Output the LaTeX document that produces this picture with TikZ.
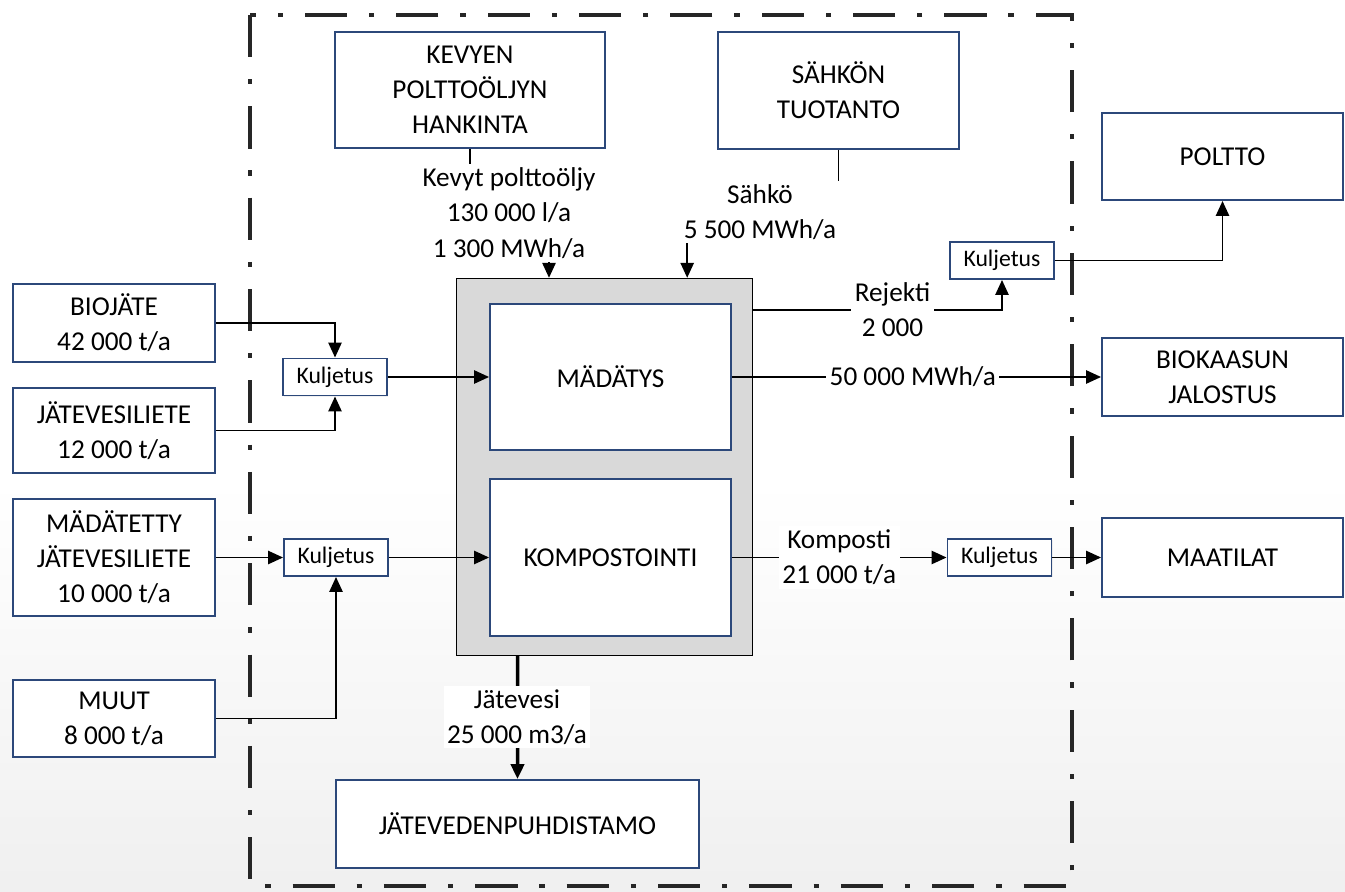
\documentclass[tikz,border=0pt]{standalone}
\usepackage{fontspec}
\setmainfont{Carlito}
\usetikzlibrary{arrows.meta}
\usetikzlibrary{shadows}
\definecolor{boxblue}{RGB}{44,72,122}

\begin{document}
\begin{tikzpicture}[x=0.02cm, y=-0.02cm,
  box/.style={draw=boxblue, line width=1.1pt, fill=white, align=center, inner sep=0pt,
    font=\fontsize{15.5}{20}\selectfont,
    drop shadow={opacity=0.12, shadow xshift=0.8pt, shadow yshift=-0.8pt}},
  kbox/.style={box, font=\fontsize{13.5}{16}\selectfont, minimum width=2.08cm, minimum height=0.74cm},
  lbl/.style={fill=white, align=center, inner sep=2pt, font=\fontsize{15.5}{20}\selectfont},
  arr/.style={-{Triangle[length=8.5pt,width=7.5pt]}, line width=1.1pt}]
\useasboundingbox (0,0) rectangle (1345,892);
\shade[top color=white, bottom color=black!6] (0,480) rectangle (1345,892);
% system boundary
\draw[black!85, line width=2.4pt, dash pattern=on 24pt off 12.5pt on 3pt off 12.5pt] (250,15) rectangle (1072,886);

\node[box, minimum width=5.4cm, minimum height=2.32cm] (kev) at (470,90) {KEVYEN\\POLTTOÖLJYN\\HANKINTA};
\node[box, minimum width=4.82cm, minimum height=2.34cm] (sah) at (838.5,90.5) {SÄHKÖN\\TUOTANTO};
\node[box, minimum width=4.82cm, minimum height=1.74cm] (pol) at (1222.5,156.5) {POLTTO};
\node[box, minimum width=4.82cm, minimum height=1.56cm] (bkj) at (1222.5,377) {BIOKAASUN\\JALOSTUS};
\node[box, minimum width=4.82cm, minimum height=1.58cm] (maa) at (1222.5,557.5) {MAATILAT};

% inputs
\node[box, minimum width=4.04cm, minimum height=1.56cm] (bio) at (114,323) {BIOJÄTE\\42 000 t/a};
\node[box, minimum width=4.04cm, minimum height=1.70cm] (jvl) at (114,430.5) {JÄTEVESILIETE\\12 000 t/a};
\node[box, minimum width=4.04cm, minimum height=2.34cm] (mdt) at (114,557.5) {MÄDÄTETTY\\JÄTEVESILIETE\\10 000 t/a};
\node[box, minimum width=4.04cm, minimum height=1.54cm] (muu) at (114,718.5) {MUUT\\8 000 t/a};

% process
\node[draw=black, line width=0.8pt, fill=black!15, minimum width=5.92cm, minimum height=7.54cm] (proc) at (604.5,467) {};
\node[box, minimum width=4.82cm, minimum height=2.92cm] (mad) at (610.5,377) {MÄDÄTYS};
\node[box, minimum width=4.82cm, minimum height=3.14cm] (kom) at (610.5,557.5) {KOMPOSTOINTI};
\node[box, minimum width=7.26cm, minimum height=1.76cm] (jvp) at (517.5,824) {JÄTEVEDENPUHDISTAMO};

\node[kbox] (kul1) at (335,377) {Kuljetus};
\node[kbox] (kul2) at (336,557.5) {Kuljetus};
\node[kbox] (kul3) at (1002,260.5) {Kuljetus};
\node[kbox] (kul4) at (999.5,557.5) {Kuljetus};

\draw[arr] (bio.east) -| (kul1.north);
\draw[arr] (jvl.east) -| (kul1.south);
\draw[arr] (kul1.east) -- (mad.west);
\draw[arr] (mdt.east) -- (kul2.west);
\draw[arr] (muu.east) -| (kul2.south);
\draw[arr] (kul2.east) -- (kom.west);

\draw[arr] (mad.east) -- (bkj.west) node[lbl, pos=0.49, inner ysep=0pt] {50 000 MWh/a};
\draw[arr] (kom.east) -- (kul4.west) node[lbl, pos=0.5] {Komposti\\21 000 t/a};
\draw[arr] (kul4.east) -- (maa.west);
\draw[arr] (proc.north east) ++(0,32) -| (kul3.south) node[lbl, pos=0.28] {Rejekti\\2 000};
\draw[arr] (kul3.east) -| (pol.south);

\draw[arr] (kev.south) -- ++(0,60) -| ([xshift=-1.11cm]proc.north);
\node[lbl] (kevl) at (509,213) {Kevyt polttoöljy\\130 000 l/a\\1 300 MWh/a};
\draw[arr] (sah.south) -- ++(0,62) -| ([xshift=-1.32cm]proc.north east);
\node[lbl, inner xsep=5pt] (sahl) at (760,212) {Sähkö\\5 500 MWh/a};

\draw[arr, line width=2pt] ([xshift=-1.74cm]proc.south) -- (jvp.north);
\node[lbl] (jvel) at (517,717) {Jätevesi\\25 000 m3/a};
\end{tikzpicture}
\end{document}
